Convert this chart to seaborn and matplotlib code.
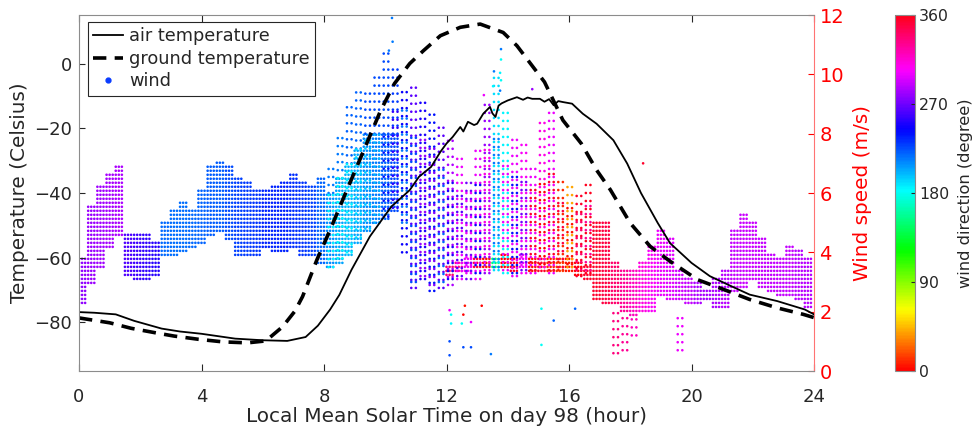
import numpy as np
import pandas as pd
import matplotlib
matplotlib.use("Agg")
import matplotlib.pyplot as plt
import seaborn as sns
from matplotlib.lines import Line2D
from matplotlib.colors import Normalize
from matplotlib.colorbar import ColorbarBase

plt.rcParams['font.family'] = ['DejaVu Sans']

# ---------------- temperature (Celsius) ----------------
air_t = [0, 0.5, 1.2, 1.8, 2.7, 3.3, 4.0, 5.1, 6.0, 6.8, 7.4, 7.8, 8.2, 8.5, 8.9, 9.5,
         10.2, 10.8, 11.1, 11.5, 11.8, 12.0, 12.2, 12.45, 12.55, 12.7, 12.9, 13.0, 13.2,
         13.42, 13.5, 13.6, 13.7, 13.8, 14.0, 14.3, 14.5, 14.65, 14.8, 15.05, 15.2, 15.35,
         15.5, 15.65, 15.8, 16.1, 16.45, 16.9, 17.45, 17.9, 18.35, 18.9, 19.3, 20.0, 20.6,
         21.3, 21.9, 22.8, 23.7, 24]
air_T = [-76.8, -77.0, -77.5, -79.5, -81.9, -82.8, -83.5, -85.0, -85.5, -85.7, -84.5,
         -81.0, -76.0, -71.5, -63.7, -53.4, -44.2, -39.1, -35.0, -31.9, -27.3, -24.7,
         -22.7, -19.6, -21.0, -18.0, -19.0, -18.6, -15.5, -13.4, -15.4, -16.5, -13.0,
         -12.3, -11.4, -10.4, -11.2, -10.5, -10.9, -10.9, -11.8, -11.0, -12.9, -11.6,
         -11.9, -12.4, -15.5, -18.6, -23.7, -30.9, -40.0, -49.3, -55.5, -61.6, -65.7,
         -68.8, -71.4, -73.4, -76.0, -77.5]

gnd_t = [0, 1.0, 1.7, 2.5, 3.1, 3.9, 4.7, 5.5, 6.1, 6.65, 7.05, 7.3, 7.77, 8.2, 8.75,
         9.3, 9.85, 10.3, 10.8, 11.25, 11.8, 12.45, 13.1, 13.85, 14.3, 14.75, 15.2, 15.8,
         16.4, 16.9, 17.35, 18.0, 18.65, 19.3, 20.2, 21.05, 21.9, 22.8, 23.65, 24]
gnd_T = [-78.6, -80.1, -81.8, -83.2, -84.2, -85.2, -86.0, -86.3, -85.7, -81.3, -76.5,
         -72.0, -60.6, -51.4, -39.0, -26.8, -14.5, -6.2, 0.0, 4.0, 8.6, 11.2, 12.2, 9.6,
         5.5, -0.1, -5.7, -17.5, -24.7, -32.9, -39.0, -49.3, -56.5, -61.1, -66.8, -69.8,
         -72.9, -75.5, -77.5, -78.5]

# ---------------- wind: steady blocks (start hour, low / high speed m/s, direction deg) ----
steady_t0 = [0.0, 0.3, 0.6, 0.9, 1.2, 1.5, 1.8, 2.1, 2.4, 2.7, 3.0, 3.3, 3.6, 3.9, 4.2, 4.5,
             4.8, 5.1, 5.4, 5.7, 6.0, 6.3, 6.6, 6.9, 7.2, 7.5, 7.8, 8.1, 8.4, 8.7, 9.0, 9.3,
             9.6, 9.9, 10.2,
             12.0, 12.3, 12.6, 12.9, 13.2, 13.5, 13.8, 14.1, 14.4, 14.7, 15.0, 15.3, 15.6,
             15.9, 16.2, 16.5,
             16.8, 17.1, 17.4, 17.7, 18.0, 18.3, 18.6, 18.9, 19.2, 19.5, 19.8, 20.1, 20.4,
             20.7, 21.0, 21.3, 21.6, 21.9, 22.2, 22.5, 22.8, 23.1, 23.4, 23.7]
steady_lo = [2.2, 2.9, 3.5, 4.1, 4.5, 3.2, 3.1, 3.1, 3.2, 3.9, 3.9, 4.0, 4.1, 4.3, 4.5, 4.7,
             4.4, 3.9, 3.9, 3.9, 4.1, 4.0, 4.0, 4.1, 3.9, 3.8, 3.6, 3.4, 3.6, 3.9, 4.3, 4.7,
             4.9, 5.1, 5.3,
             3.2, 3.3, 3.3, 3.4, 3.4, 3.4, 3.4, 3.3, 3.4, 3.3, 3.3, 3.3, 3.3, 3.3, 3.2, 3.0,
             2.4, 2.2, 2.2, 2.0, 1.8, 1.9, 2.0, 2.5, 2.4, 2.3, 2.2, 2.2, 2.3, 2.1, 2.1, 2.6,
             2.8, 3.0, 2.8, 2.6, 2.5, 2.5, 2.4, 2.1]
steady_hi = [3.8, 5.6, 6.3, 6.7, 6.9, 4.7, 4.7, 4.6, 4.4, 5.0, 5.5, 5.8, 5.5, 6.2, 6.9, 7.1,
             6.9, 6.5, 6.4, 6.1, 6.2, 6.3, 6.4, 6.7, 6.4, 6.3, 6.6, 6.0, 6.5, 7.0, 7.5, 8.0,
             8.0, 8.0, 8.0,
             3.6, 3.7, 3.8, 3.9, 3.9, 3.8, 4.0, 3.9, 4.0, 3.9, 3.9, 3.9, 3.9, 3.8, 3.7, 3.6,
             5.0, 5.0, 3.7, 3.4, 3.5, 3.7, 4.3, 4.8, 4.5, 3.4, 3.2, 3.1, 2.7, 3.2, 3.4, 4.8,
             5.3, 5.0, 4.5, 4.0, 3.8, 4.2, 4.1, 3.9]
steady_dir = [278, 280, 282, 284, 285, 262, 258, 255, 252, 218, 217, 217, 218, 220, 222, 222,
              225, 228, 230, 232, 235, 235, 235, 233, 232, 228, 220, 210, 205, 200, 205, 210,
              215, 220, 225,
              340, 330, 300, 350, 5, 150, 0, 355, 300, 5, 355, 10, 15, 5, 0, 355,
              355, 350, 340, 330, 320, 312, 305, 300, 298, 293, 290, 285, 283, 285, 288, 290,
              292, 292, 290, 290, 290, 290, 288, 288]

# ---------------- wind: gusty blocks (sparser samples) ----------------
gusty_t0 = [8.1, 8.4, 8.7, 9.0, 9.3, 9.6, 9.9, 10.2,
            8.1, 8.4, 8.7, 9.0, 9.3, 9.6, 9.9, 10.2,
            10.5, 10.5, 10.8, 10.8, 11.1, 11.1, 11.4, 11.4, 11.7, 11.7, 12.0, 12.0,
            12.3, 12.3, 12.6, 12.6, 12.9, 12.9, 13.2, 13.2, 13.5, 13.5, 13.8, 13.8,
            14.1, 14.1, 14.4, 14.4, 14.7, 14.7, 15.0, 15.0, 15.3, 15.3, 15.6, 15.6,
            15.9, 15.9, 16.2, 16.2, 16.5, 16.5,
            17.4, 17.7, 18.0, 19.5]
gusty_lo = [6.0, 6.5, 7.0, 7.5, 8.0, 8.0, 8.0, 8.0,
            3.5, 3.8, 4.0, 4.5, 4.8, 5.0, 5.2, 5.5,
            4.0, 5.0, 2.8, 3.0, 3.1, 3.2, 2.7, 2.9, 2.8, 3.0, 2.9, 3.1,
            3.1, 3.2, 3.1, 3.3, 3.1, 3.3, 3.3, 3.4, 3.4, 3.5, 3.3, 3.4,
            3.2, 3.3, 3.3, 3.4, 3.3, 3.4, 3.5, 3.6, 3.3, 3.4, 3.4, 3.5,
            3.5, 3.6, 3.2, 3.4, 3.3, 3.4,
            0.6, 0.7, 1.2, 0.7]
gusty_hi = [7.0, 8.0, 9.0, 9.5, 9.6, 10.0, 10.8, 10.4,
            6.0, 6.5, 7.0, 7.5, 8.0, 8.0, 8.0, 9.0,
            9.5, 9.0, 9.8, 8.0, 9.1, 8.0, 8.9, 7.5, 8.3, 7.0, 7.8, 6.5,
            7.2, 6.0, 6.6, 6.0, 7.5, 6.5, 9.2, 7.5, 10.0, 8.0, 8.9, 7.0,
            7.9, 6.8, 7.7, 6.5, 7.0, 6.2, 8.4, 6.5, 8.9, 6.8, 6.4, 5.8,
            6.2, 5.5, 6.1, 5.5, 6.5, 5.6,
            2.2, 1.9, 1.8, 1.9]
gusty_dir = [215, 215, 220, 220, 225, 225, 225, 230,
             185, 180, 185, 190, 195, 200, 240, 255,
             245, 215, 265, 225, 250, 280, 240, 275, 265, 220, 285, 250,
             300, 265, 270, 300, 300, 245, 280, 310, 190, 215, 185, 300,
             300, 240, 305, 270, 300, 355, 310, 0, 300, 355, 10, 350,
             40, 5, 355, 340, 358, 330,
             335, 330, 320, 300]

# ---------------- wind: isolated samples ----------------
out_t = [10.22, 10.24, 10.12, 13.78, 13.78, 13.55, 13.75, 13.78, 13.52, 13.75, 13.22, 14.8,
         18.42, 12.1, 12.15, 12.55, 12.15, 12.5, 12.8, 12.1, 12.55, 12.8, 12.1, 13.45,
         13.15, 12.6, 15.1, 15.1, 15.5, 16.2]
out_s = [11.9, 11.1, 10.8, 10.85, 10.5, 10.1, 10.05, 9.8, 9.6, 9.45, 9.3, 9.5,
         7.0, 2.05, 1.9, 1.9, 1.6, 1.6, 1.65, 1.0, 0.8, 0.8, 0.53, 0.57,
         2.2, 2.2, 0.88, 2.1, 1.7, 2.1]
out_d = [215, 215, 215, 215, 180, 215, 185, 180, 185, 215, 300, 280,
         355, 300, 180, 0, 185, 180, 300, 225, 225, 225, 225, 215,
         0, 5, 180, 180, 220, 220]

# ---------------- build the wind table ----------------
rows = []
STEP = 0.135
for t0, lo, hi, d in zip(steady_t0, steady_lo, steady_hi, steady_dir):
    for k in range(3):
        for s in np.arange(np.ceil(lo / STEP) * STEP, hi + 1e-9, STEP):
            rows.append((t0 + 0.1 * k, s, d))
for t0, lo, hi, d in zip(gusty_t0, gusty_lo, gusty_hi, gusty_dir):
    for off in (0.05, 0.2):
        for s in np.arange(lo, hi + 1e-9, 2 * STEP):
            rows.append((t0 + off, s, d))
for t, s, d in zip(out_t, out_s, out_d):
    rows.append((t, s, d))
wind = pd.DataFrame(rows, columns=["time", "speed", "direction"])

# ---------------- figure ----------------
fig = plt.figure(figsize=(9.74, 4.36), dpi=100)
ax = fig.add_axes([79 / 974, 65 / 436, 735 / 974, 356 / 436])
ax2 = ax.twinx()

sns.scatterplot(data=wind, x="time", y="speed", hue="direction", palette="hsv",
                hue_norm=(0, 360), s=3.5, linewidth=0, legend=False, ax=ax, zorder=1)
ax.set_xlim(0, 24)
ax.set_ylim(0, 12)
ax.set_xticks(range(0, 25, 4))
ax.set_yticks(range(0, 13, 2))
ax.set_xlabel("Local Mean Solar Time on day 98 (hour)", fontsize=14.4, color="#262626",
              labelpad=1)
ax.set_ylabel("Wind speed (m/s)", fontsize=14.4, color="red", labelpad=6)
ax.yaxis.tick_right()
ax.yaxis.set_label_position("right")
ax.tick_params(axis="x", direction="in", top=True, bottom=True, length=5, width=0.8,
               color="#262626", labelcolor="#262626", labelsize=13, pad=12)
ax.tick_params(axis="y", direction="in", right=True, left=False, labelleft=False,
               labelright=True, length=4, width=0.8,
               color="red", labelcolor="red", labelsize=14, pad=4)
for side in ("top", "bottom"):
    ax.spines[side].set_color("#8c8c8c")
ax.spines["left"].set_visible(False)
ax.spines["right"].set_color((1, 0.45, 0.45))

sns.lineplot(x=air_t, y=air_T, ax=ax2, color="black", linewidth=1.3, sort=False,
             estimator=None)
sns.lineplot(x=gnd_t, y=gnd_T, ax=ax2, color="black", linewidth=2.6,
             linestyle=(0, (3.7, 2.3)), sort=False, estimator=None)
ax2.set_ylim(-95, 15)
ax2.set_yticks([-80, -60, -40, -20, 0])
ax2.yaxis.tick_left()
ax2.yaxis.set_label_position("left")
ax2.set_ylabel("Temperature (Celsius)", fontsize=14.4, color="#262626", labelpad=4)
ax2.tick_params(axis="y", direction="in", left=True, right=False, labelleft=True,
                labelright=False, length=4, width=0.8,
                color="#262626", labelcolor="#262626", labelsize=13, pad=5)
ax2.spines["left"].set_color("#8c8c8c")
for side in ("right", "top", "bottom"):
    ax2.spines[side].set_visible(False)

handles = [
    Line2D([], [], color="black", lw=1.3),
    Line2D([], [], color="black", lw=2.6, linestyle=(0, (3.7, 2.3))),
    Line2D([], [], color="#0a3cff", marker="o", ls="none", markersize=3.5),
]
leg = ax2.legend(handles, ["air temperature", "ground temperature", "wind"],
                 loc="upper left", bbox_to_anchor=(9 / 735, 1 - 7 / 356),
                 borderaxespad=0, fontsize=12.8, frameon=True, fancybox=False,
                 framealpha=1, edgecolor="#262626", handlelength=1.65,
                 handletextpad=0.35, labelspacing=0.25, borderpad=0.3)
leg.get_frame().set_linewidth(0.8)
for txt in leg.get_texts():
    txt.set_color("#262626")

cax = fig.add_axes([895 / 974, 65 / 436, 20 / 974, 356 / 436])
cb = ColorbarBase(cax, cmap=plt.get_cmap("hsv"), norm=Normalize(0, 360),
                  ticks=[0, 90, 180, 270, 360])
cb.outline.set_edgecolor("#8c8c8c")
cb.outline.set_linewidth(0.8)
cax.tick_params(labelsize=11.3, colors="#262626", direction="in", length=3, pad=3)
cb.set_label("wind direction (degree)", fontsize=11.7, color="#262626", labelpad=6)

fig.savefig("out.png", dpi=100)
